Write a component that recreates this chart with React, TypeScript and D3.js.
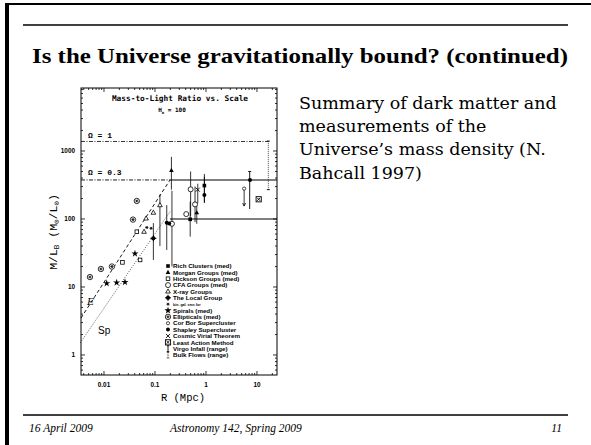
import * as d3 from 'd3';

const W = 591;
const H = 445;
const M = { left: 81, right: 277, top: 88, bottom: 375 };

// axis extents and labelled ticks
const xDomain = [0.00354, 24.7];
const yDomain = [0.508, 8440];
const xTickLabels = [0.01, 0.1, 1, 10];
const yTickLabels = [1, 10, 100, 1000];

// reference levels (M/L) and where the lines change style
const omegaOne = 1380;
const omegaPoint3 = 375;
const clusterLevel = 100;
const lineBreakR = 0.197;
const bulkR = 16.7;

const ellipticalTrend = [[0.00354, 3.5], [0.197, 375]];
const spiralTrend = [[0.0034, 1.5], [0.2, 130]];

// measurements: r in Mpc, ml = M/L_B, lo/hi = range, arrow = upper limit
const richClusters = [
  { r: 0.93, ml: 310, lo: 175, hi: 460 },
  { r: 0.49, ml: 99, lo: 55, hi: 180 },
];
const morganGroups = [
  { r: 0.21, ml: 520, lo: 270, hi: 820 },
  { r: 0.66, ml: 124, lo: 85, hi: 170 },
];
const hicksonGroups = [
  { r: 0.023, ml: 23 },
  { r: 0.051, ml: 25 },
  { r: 0.044, ml: 65 },
];
const cfaGroups = [
  { r: 0.5, ml: 273, lo: 110, hi: 500 },
  { r: 0.61, ml: 164, lo: 90, hi: 300 },
  { r: 0.41, ml: 118 },
  { r: 0.215, ml: 85, lo: 20, hi: 260 },
];
const xrayGroups = [
  { r: 0.061, ml: 65 },
  { r: 0.067, ml: 102 },
  { r: 0.093, ml: 124 },
  { r: 0.125, ml: 160, lo: 40, hi: 230 },
];
const localGroup = [{ r: 0.093, ml: 52, lo: 25, hi: 87 }];
const binaryGalaxies = [
  { r: 0.069, ml: 75 },
  { r: 0.084, ml: 73 },
];
const spirals = [
  { r: 0.0113, ml: 11.3 },
  { r: 0.0177, ml: 11.6 },
  { r: 0.0258, ml: 11.8 },
  { r: 0.0405, ml: 31 },
];
const ellipticals = [
  { r: 0.0053, ml: 14 },
  { r: 0.0087, ml: 18.4 },
  { r: 0.0143, ml: 20 },
  { r: 0.037, ml: 98 },
  { r: 0.044, ml: 184 },
];
const corBor = [{ r: 5.6, ml: 280, lo: 155, arrow: true }];
const shapley = [
  { r: 7.3, ml: 375 },
  { r: 0.17, ml: 88, lo: 35, hi: 160 },
  { r: 0.19, ml: 86 },
  { r: 0.93, ml: 225, lo: 172, hi: 420 },
];
const cosmicVirial = [{ r: 0.69, ml: 270, lo: 170, hi: 330 }];
const leastAction = [{ r: 10.8, ml: 195 }];
const virgoInfall = [{ r: 7.2, lo: 140, hi: 500 }];
const bulkFlows = [{ r: 16.7, lo: 270, hi: 1400 }];

const legendLabels = [
  'Rich Clusters (med)',
  'Morgan Groups (med)',
  'Hickson Groups (med)',
  'CFA Groups (med)',
  'X-ray Groups',
  'The Local Group',
  'bin. gal. sms for',
  'Spirals (med)',
  'Ellipticals (med)',
  'Cor Bor Supercluster',
  'Shapley Supercluster',
  'Cosmic Virial Theorem',
  'Least Action Method',
  'Virgo Infall (range)',
  'Bulk Flows (range)',
];
const legendKinds = ['sqFill', 'triFill', 'sqOpen', 'circOpen', 'triOpen', 'blob', 'tiny', 'star', 'ellip', 'circSmall', 'dot', 'cross', 'boxX', 'range', 'dotRange'];

const bodyLines = ['Summary of dark matter and', 'measurements of the', 'Universe\u2019s mass density (N.', 'Bahcall 1997)'];

const sym = (kind: string, cx: number, cy: number, key: any) => {
  const t = `translate(${cx},${cy})`;
  const sw = 0.8;
  switch (kind) {
    case 'sqFill':
      return <rect key={key} x={cx - 1.8} y={cy - 1.8} width={3.6} height={3.6} fill="#000" />;
    case 'triFill':
      return <path key={key} transform={t} d="M0,-2.5L2.3,1.6L-2.3,1.6Z" fill="#000" />;
    case 'sqOpen':
      return <rect key={key} x={cx - 1.8} y={cy - 1.8} width={3.6} height={3.6} fill="#fff" stroke="#000" strokeWidth={sw} />;
    case 'circOpen':
      return <circle key={key} cx={cx} cy={cy} r={2.5} fill="#fff" stroke="#000" strokeWidth={sw} />;
    case 'triOpen':
      return <path key={key} transform={t} d="M0,-2.5L2.3,1.6L-2.3,1.6Z" fill="#fff" stroke="#000" strokeWidth={sw} />;
    case 'blob':
      return (
        <g key={key} transform={t}>
          <circle r={2.1} fill="#000" />
          <path d="M-3,0H3M0,-3V3" stroke="#000" strokeWidth={1} />
        </g>
      );
    case 'star':
      return <path key={key} transform={t} d={d3.symbol(d3.symbolStar, 16)() || ''} fill="#000" />;
    case 'ellip':
      return (
        <g key={key} transform={t}>
          <circle r={2.7} fill="#fff" stroke="#000" strokeWidth={sw} />
          <path d="M-1.7,0H1.7M-0.9,-1.5L0.9,1.5M0.9,-1.5L-0.9,1.5" stroke="#000" strokeWidth={0.7} />
        </g>
      );
    case 'circSmall':
      return <circle key={key} cx={cx} cy={cy} r={1.6} fill="#fff" stroke="#000" strokeWidth={0.7} />;
    case 'dot':
      return <circle key={key} cx={cx} cy={cy} r={2} fill="#000" />;
    case 'cross':
      return <path key={key} transform={t} d="M-2,-2L2,2M2,-2L-2,2" stroke="#000" strokeWidth={0.9} />;
    case 'boxX':
      return (
        <g key={key} transform={t}>
          <rect x={-2.6} y={-2.6} width={5.2} height={5.2} fill="#fff" stroke="#000" strokeWidth={0.9} />
          <path d="M-1.6,-1.6L1.6,1.6M1.6,-1.6L-1.6,1.6" stroke="#000" strokeWidth={0.9} />
        </g>
      );
    case 'tiny':
      return <path key={key} transform={t} d="M-1.6,0H1.6M-0.8,-1.4L0.8,1.4M0.8,-1.4L-0.8,1.4" stroke="#000" strokeWidth={0.8} />;
    case 'range':
      return <path key={key} transform={t} d="M0,-3V3M-1.2,-3H1.2M-1.2,3H1.2" stroke="#000" strokeWidth={0.9} />;
    case 'dotRange':
      return <path key={key} transform={t} d="M0,-3V3M-1.2,-3H1.2M-1.2,3H1.2" stroke="#000" strokeWidth={0.9} strokeDasharray="0.8,0.8" />;
    default:
      return null;
  }
};

export default function App() {
  const x = d3.scaleLog().domain(xDomain).range([M.left, M.right]);
  const y = d3.scaleLog().domain(yDomain).range([M.bottom, M.top]);
  const isMajor = (v: number) => Math.abs(Math.log10(v) - Math.round(Math.log10(v))) < 1e-6;

  const series = [
    { kind: 'sqFill', pts: richClusters },
    { kind: 'triFill', pts: morganGroups },
    { kind: 'sqOpen', pts: hicksonGroups },
    { kind: 'circOpen', pts: cfaGroups },
    { kind: 'triOpen', pts: xrayGroups },
    { kind: 'blob', pts: localGroup },
    { kind: 'tiny', pts: binaryGalaxies },
    { kind: 'star', pts: spirals },
    { kind: 'ellip', pts: ellipticals },
    { kind: 'circSmall', pts: corBor },
    { kind: 'dot', pts: shapley },
    { kind: 'cross', pts: cosmicVirial },
    { kind: 'boxX', pts: leastAction },
  ];

  const line = d3.line<number[]>().x((d) => x(d[0])).y((d) => y(d[1]));
  const xt = x.ticks();
  const yt = y.ticks();
  const mono = '"Liberation Mono", monospace';
  const sans = '"Liberation Sans", Arial, sans-serif';

  return (
    <svg width={W} height={H} style={{ position: 'absolute', left: 0, top: 0, background: '#fff' }}>
      <rect x={0} y={0} width={W} height={H} fill="#fff" />
      {/* slide frame */}
      <rect x={5} y={3} width={4} height={H} fill="#000" />
      <rect x={5} y={3} width={W} height={2} fill="#000" />
      <line x1={23} x2={568} y1={25} y2={25} stroke="#000" strokeWidth={1.5} />
      <line x1={23} x2={568} y1={415} y2={415} stroke="#000" strokeWidth={1.5} />
      <text x={32} y={63} fontFamily='"Liberation Serif", serif' fontWeight="bold" fontSize={21.5} textLength={536} lengthAdjust="spacingAndGlyphs">
        Is the Universe gravitationally bound? (continued)
      </text>
      {bodyLines.map((s, i) => (
        <text key={i} x={299} y={109 + i * 23.2} fontFamily='"DejaVu Serif", serif' fontSize={17.5}>
          {s}
        </text>
      ))}
      <g fontFamily='"Liberation Serif", serif' fontStyle="italic" fontSize={11.5}>
        <text x={29} y={432}>16 April 2009</text>
        <text x={170} y={432}>Astronomy 142, Spring 2009</text>
        <text x={562} y={432} textAnchor="end">11</text>
      </g>

      {/* chart frame and ticks */}
      <rect x={M.left} y={M.top} width={M.right - M.left} height={M.bottom - M.top} fill="none" stroke="#000" strokeWidth={1} />
      {xt.map((v, i) => {
        const L = isMajor(v) ? 4 : 2;
        return (
          <g key={'xt' + i} stroke="#000" strokeWidth={0.8}>
            <line x1={x(v)} x2={x(v)} y1={M.bottom} y2={M.bottom - L} />
            <line x1={x(v)} x2={x(v)} y1={M.top} y2={M.top + L} />
          </g>
        );
      })}
      {yt.map((v, i) => {
        const L = isMajor(v) ? 4 : 2;
        return (
          <g key={'yt' + i} stroke="#000" strokeWidth={0.8}>
            <line x1={M.left} x2={M.left + L} y1={y(v)} y2={y(v)} />
            <line x1={M.right} x2={M.right - L} y1={y(v)} y2={y(v)} />
          </g>
        );
      })}
      <g fontFamily={sans} fontWeight="bold" fontSize={6.4}>
        {xTickLabels.map((v) => (
          <text key={'xl' + v} x={x(v)} y={M.bottom + 12} textAnchor="middle">{v}</text>
        ))}
        {yTickLabels.map((v) => (
          <text key={'yl' + v} x={M.left - 6} y={y(v) + 2} textAnchor="end">{v}</text>
        ))}
      </g>
      <text x={183} y={401} textAnchor="middle" fontFamily={mono} fontSize={10.5}>R (Mpc)</text>
      <text transform={`translate(57,232) rotate(-90)`} textAnchor="middle" fontFamily={mono} fontSize={11.5}>
        M/L<tspan fontSize={7.5} dy={2}>B</tspan>
        <tspan dy={-2}> (M</tspan>
        <tspan fontSize={7.5} dy={2}>{'\u2299'}</tspan>
        <tspan dy={-2}>/L</tspan>
        <tspan fontSize={7.5} dy={2}>{'\u2299'}</tspan>
        <tspan dy={-2}>)</tspan>
      </text>

      {/* chart title */}
      <text x={180} y={101} textAnchor="middle" fontFamily='"DejaVu Sans Mono", monospace' fontWeight="bold" fontSize={7.8}>
        Mass-to-Light Ratio vs. Scale
      </text>
      <text x={172} y={112} textAnchor="middle" fontFamily='"DejaVu Sans Mono", monospace' fontWeight="bold" fontSize={6}>
        H<tspan fontSize={4} dy={1.5}>o</tspan><tspan dy={-1.5}> = 100</tspan>
      </text>

      {/* reference lines */}
      <g stroke="#000" fill="none">
        <line x1={M.left} x2={x(bulkR)} y1={y(omegaOne)} y2={y(omegaOne)} strokeWidth={0.8} strokeDasharray="4,1.5,1,1.5" />
        <line x1={M.left} x2={x(lineBreakR)} y1={y(omegaPoint3)} y2={y(omegaPoint3)} strokeWidth={0.9} strokeDasharray="4,1.5,1,1.5" />
        <line x1={x(lineBreakR)} x2={M.right} y1={y(omegaPoint3)} y2={y(omegaPoint3)} strokeWidth={1.1} />
        <line x1={x(lineBreakR)} x2={M.right} y1={y(clusterLevel)} y2={y(clusterLevel)} strokeWidth={1.1} />
        <path d={line(ellipticalTrend) || ''} strokeWidth={0.9} strokeDasharray="3.5,2.5" />
        <path d={line(spiralTrend) || ''} strokeWidth={0.8} strokeDasharray="0.8,1.6" />
      </g>
      <g fontFamily={mono} fontWeight="bold" fontSize={8}>
        <text x={88} y={138}>{'\u03A9 = 1'}</text>
        <text x={88} y={175}>{'\u03A9 = 0.3'}</text>
      </g>
      <text x={87} y={305} fontFamily='"DejaVu Serif", serif' fontStyle="italic" fontSize={10}>E</text>
      <text x={98} y={334} fontFamily={sans} fontSize={10}>Sp</text>

      {/* ranges */}
      {virgoInfall.map((d, i) => (
        <path key={'vi' + i} d={`M${x(d.r)},${y(d.lo)}V${y(d.hi)}M${x(d.r) - 1.5},${y(d.hi)}H${x(d.r) + 1.5}`} stroke="#000" strokeWidth={0.9} />
      ))}
      {bulkFlows.map((d, i) => (
        <g key={'bf' + i} stroke="#000" strokeWidth={0.9}>
          <line x1={x(d.r)} x2={x(d.r)} y1={y(d.lo)} y2={y(d.hi)} strokeDasharray="0.8,1.2" />
          <line x1={x(d.r) - 1.5} x2={x(d.r) + 1.5} y1={y(d.hi)} y2={y(d.hi)} />
          <line x1={x(d.r) - 1.5} x2={x(d.r) + 1.5} y1={y(d.lo)} y2={y(d.lo)} />
        </g>
      ))}

      {/* error bars */}
      {series.map((s, si) =>
        s.pts.map((p: any, pi: number) => {
          if (p.lo == null) return null;
          const top = p.hi != null ? y(p.hi) : y(p.ml);
          return (
            <g key={`eb${si}-${pi}`} stroke="#000" strokeWidth={0.8} fill="none">
              <line x1={x(p.r)} x2={x(p.r)} y1={y(p.lo)} y2={top} />
              {p.arrow && <path d={`M${x(p.r) - 1.5},${y(p.lo) - 3}L${x(p.r)},${y(p.lo)}L${x(p.r) + 1.5},${y(p.lo) - 3}`} />}
            </g>
          );
        })
      )}
      {/* markers */}
      {series.map((s, si) => s.pts.map((p: any, pi: number) => sym(s.kind, x(p.r), y(p.ml), `m${si}-${pi}`)))}

      {/* legend */}
      <g fontFamily={sans} fontWeight="bold" fontSize={6.2}>
        {legendLabels.map((lab, i) => {
          const cy = 266 + i * 6.36;
          return (
            <g key={'lg' + i}>
              {sym(legendKinds[i], 168, cy, 'ls' + i)}
              <text x={173} y={cy + 2.2} fontSize={i === 6 ? 3.6 : 6.2}>{lab}</text>
            </g>
          );
        })}
      </g>
    </svg>
  );
}
